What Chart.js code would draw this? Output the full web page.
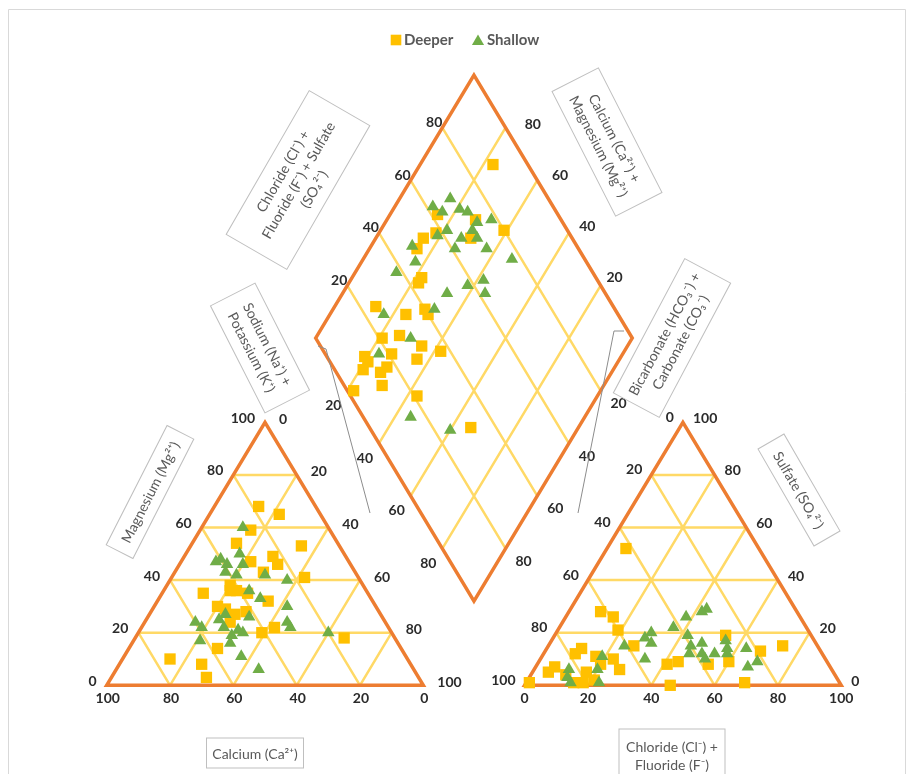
<!DOCTYPE html>
<html>
<head>
<meta charset="utf-8">
<script src="https://cdn.jsdelivr.net/npm/chart.js@4.4.1/dist/chart.umd.min.js"></script>
<style>
  html, body { margin: 0; padding: 0; background: #ffffff; }
  #wrap { width: 909px; height: 774px; position: relative; }
</style>
</head>
<body>
<div id="wrap"><canvas id="piper" width="909" height="774"></canvas></div>
<script>
// ---- Tick values -------------------------------------------------------
const edgeTicks = [0, 20, 40, 60, 80, 100];
const innerTicks = [20, 40, 60, 80];

// ---- Cation triangle: [Ca %, Mg %]  (Na+K is the remainder) -------------
const deeperCations = [
  [18,68],[13,65],[25,59],[32,54],[12,53],[23,49],[23,46],[31,47],[29,43],[17,41],
  [42,38],[41,36],[43,36],[52,35],[38,35],[33,32],[50,30],[48,29],[46,27],[42,28],
  [49,24],[41,20],[36,22],[16,18],[58,14],[75,10],[66,8],[67,3]
];
const shallowCations = [
  [27,60],[33,50],[42,47],[40,48],[39,46],[34,46],[41,43],[38,42],[29,42],[23,40],
  [37,36],[35,33],[28,30],[49,27],[52,25],[42,26],[31,24],[31,22],[60,24],[59,22],
  [52,22],[48,21],[47,20],[51,19],[62,17],[53,16],[20,20],[52,11],[49,6]
];

// ---- Anion triangle: [Cl+F %, SO4 %]  (HCO3+CO3 is the remainder) -------
const deeperAnions = [
  [6,52],[10,28],[15,26],[19,21],[27,15],[11,14],[10,12],[17,11],[23,10],[27,6],
  [41,8],[44,9],[54,19],[74,15],[68,13],[60,9],[54,8],[69,1],[46,0],[1,1],
  [5,5],[6,7],[17,5],[18,1],[21,2],[20,8],[11,4],[15,1]
];
const shallowAnions = [
  [43,29],[42,28],[38,26],[36,22],[30,20],[29,18],[32,16],[24,15],[33,10],[42,19],
  [45,15],[46,12],[48,16],[50,12],[52,10],[54,12],[55,17],[57,14],[58,12],[63,14],
  [67,7],[69,9],[11,6],[12,3],[20,6],[23,1],[19,11],[14,1]
];

// ---- Diamond: [Cl+F+SO4 %, Na+K %] ---------------------------------------
const deeperDiamond = [
  [89,23],[80,39],[53,15],[58,18],[62,15],[73,28],[68,30],[49,15],[45,22],[43,22],
  [25,13],[33,24],[40,29],[40,31],[21,21],[27,26],[32,35],[37,42],[21,27],[12,19],
  [28,36],[12,21],[9,21],[14,27],[17,28],[12,30],[2,22],[21,43],[32,66]
];
const shallowDiamond = [
  [69,16],[62,12],[64,16],[70,21],[72,24],[78,33],[73,29],[62,21],[58,19],[65,27],
  [70,29],[70,32],[61,27],[71,37],[48,13],[46,17],[77,47],[38,13],[64,42],[58,38],
  [62,45],[50,33],[43,32],[26,17],[30,30],[17,23],[15,45],[25,60]
];

// ---- Piper geometry (triangle side = 100 units) ---------------------------
const H = 50 * Math.sqrt(3);          // triangle height
const GAP = 32;                        // gap between the two triangles
const AX0 = 100 + GAP;                 // left corner of the anion triangle
const DX = 100 + GAP / 2;              // diamond centre line
const DY = (GAP / 2) * Math.sqrt(3);   // diamond bottom corner

function cationXY(ca, mg) {            // Ca at left, Na+K at right, Mg at top
  const na = 100 - ca - mg;
  return { x: na + mg / 2, y: mg * H / 100 };
}
function anionXY(cl, so4) {            // HCO3 at left, Cl at right, SO4 at top
  return { x: AX0 + cl + so4 / 2, y: so4 * H / 100 };
}
function diamondXY(s, n) {             // s = Cl+F+SO4, n = Na+K
  return { x: DX - 50 + (s + n) / 2, y: DY + H + (s - n) * H / 100 };
}

const deeperPoints = [
  ...deeperCations.map(p => cationXY(p[0], p[1])),
  ...deeperAnions.map(p => anionXY(p[0], p[1])),
  ...deeperDiamond.map(p => diamondXY(p[0], p[1]))
];
const shallowPoints = [
  ...shallowCations.map(p => cationXY(p[0], p[1])),
  ...shallowAnions.map(p => anionXY(p[0], p[1])),
  ...shallowDiamond.map(p => diamondXY(p[0], p[1]))
];

// ---- Styling ---------------------------------------------------------------
const FONT = "Lato, 'DejaVu Sans', sans-serif";
const EDGE = '#ED7D31';
const GRID = '#FFD966';
const TEXT = '#595959';
const TICK = '#2b2b2b';
const SQUARE_R = 8;
const TRI_R = 7.2;

// Axis titles drawn in framed boxes: centre (px), angle (deg), box size
const axisTitles = [
  { lines: ['Chloride (Cl\u207B) +', 'Fluoride (F\u207B) + Sulfate', '(SO\u2084\u00B2\u207B)'], cx: 298, cy: 180, rot: -60, w: 166, h: 70 },
  { lines: ['Calcium (Ca\u00B2\u207A) +', 'Magnesium (Mg\u00B2\u207A)'], cx: 607, cy: 142, rot: 63, w: 140, h: 52 },
  { lines: ['Sodium (Na\u207A) +', 'Potassium (K\u207A)'], cx: 260, cy: 348, rot: 63, w: 120, h: 50 },
  { lines: ['Bicarbonate (HCO\u2083\u207B) +', 'Carbonate (CO\u2083\u207B)'], cx: 672, cy: 338, rot: -62, w: 152, h: 52 },
  { lines: ['Magnesium (Mg\u00B2\u207A)'], cx: 150, cy: 492, rot: -63, w: 134, h: 30 },
  { lines: ['Sulfate (SO\u2084\u00B2\u207B)'], cx: 799, cy: 490, rot: 60, w: 112, h: 30 },
  { lines: ['Calcium (Ca\u00B2\u207A)'], cx: 255, cy: 753, rot: 0, w: 97, h: 30 },
  { lines: ['Chloride (Cl\u207B) +', 'Fluoride (F\u207B)'], cx: 672, cy: 755, rot: 0, w: 106, h: 52 }
];

// Leader lines from the side titles to the diamond
const leaders = [
  [[318, 346], [326, 349], [370, 513]],
  [[624, 331], [614, 331], [578, 513]]
];

// Tick label sets: anchor point on an edge + pixel offset (constant or per value)
const tickSets = [
  { values: edgeTicks, at: v => cationXY(100 - v, v), dx: -10, dy: -4, align: 'right' },      // Mg
  { values: edgeTicks, at: v => cationXY(0, 100 - v), dx: 14, dy: -3, align: 'left' },        // Na+K
  { values: edgeTicks, at: v => cationXY(v, 0), dx: 1, dy: 13, align: 'center' },             // Ca
  { values: edgeTicks, at: v => anionXY(0, 100 - v), dx: -9, dy: -5, align: 'right' },        // HCO3
  { values: edgeTicks, at: v => anionXY(100 - v, v), dx: 10, dy: -4, align: 'left' },         // SO4
  { values: edgeTicks, at: v => anionXY(v, 0), dx: 0, dy: 13, align: 'center' },              // Cl+F
  { values: innerTicks, at: v => diamondXY(v, 0), dx: 0, dy: -5, align: 'right' },            // Cl+F+SO4
  { values: innerTicks, at: v => diamondXY(100, 100 - v),                                     // Ca+Mg
    dx: v => 14 + (v - 20) * 0.22, dy: v => -8.5 + (v - 20) * 0.09, align: 'center' },
  { values: innerTicks, at: v => diamondXY(0, v), dx: -14, dy: 15, align: 'center' },         // Na+K
  { values: innerTicks, at: v => diamondXY(100 - v, 100), dx: 18, dy: 13, align: 'center' }   // HCO3
];

// ---- Plugin drawing the Piper frame, grid, labels and legend ---------------
const piperFrame = {
  id: 'piperFrame',
  beforeDatasetsDraw(chart) {
    const { ctx, scales: { x, y } } = chart;
    const P = p => [x.getPixelForValue(p.x), y.getPixelForValue(p.y)];
    const seg = (a, b) => { const A = P(a), B = P(b); ctx.moveTo(A[0], A[1]); ctx.lineTo(B[0], B[1]); };

    ctx.save();
    // outer chart frame
    ctx.strokeStyle = '#d9d9d9';
    ctx.lineWidth = 1;
    ctx.beginPath();
    ctx.moveTo(8.5, 790); ctx.lineTo(8.5, 9.5); ctx.lineTo(905.5, 9.5); ctx.lineTo(905.5, 790);
    ctx.stroke();

    // grid lines
    ctx.strokeStyle = GRID;
    ctx.lineWidth = 2.5;
    ctx.beginPath();
    innerTicks.forEach(k => {
      seg(cationXY(100 - k, k), cationXY(0, k));       // Mg = k
      seg(cationXY(k, 0), cationXY(k, 100 - k));       // Ca = k
      seg(cationXY(100 - k, 0), cationXY(0, 100 - k)); // Na+K = k
      seg(anionXY(0, k), anionXY(100 - k, k));         // SO4 = k
      seg(anionXY(k, 0), anionXY(k, 100 - k));         // Cl = k
      seg(anionXY(100 - k, 0), anionXY(0, 100 - k));   // HCO3 = k
      seg(diamondXY(k, 0), diamondXY(k, 100));         // Cl+F+SO4 = k
      seg(diamondXY(0, k), diamondXY(100, k));         // Na+K = k
    });
    ctx.stroke();

    // outlines
    ctx.strokeStyle = EDGE;
    ctx.lineWidth = 3.5;
    ctx.lineJoin = 'miter';
    const poly = pts => {
      ctx.beginPath();
      pts.forEach((p, i) => { const q = P(p); i ? ctx.lineTo(q[0], q[1]) : ctx.moveTo(q[0], q[1]); });
      ctx.closePath();
      ctx.stroke();
    };
    poly([cationXY(100, 0), cationXY(0, 0), cationXY(0, 100)]);
    poly([anionXY(0, 0), anionXY(100, 0), anionXY(0, 100)]);
    poly([diamondXY(0, 0), diamondXY(100, 0), diamondXY(100, 100), diamondXY(0, 100)]);
    ctx.restore();
  },
  afterDatasetsDraw(chart) {
    const { ctx, scales: { x, y } } = chart;
    const off = (o, v) => (typeof o === 'function' ? o(v) : o);
    ctx.save();

    // tick labels
    ctx.fillStyle = TICK;
    ctx.font = 'bold 14px ' + FONT;
    ctx.textBaseline = 'middle';
    tickSets.forEach(set => {
      ctx.textAlign = set.align;
      set.values.forEach(v => {
        const p = set.at(v);
        ctx.fillText(String(v), x.getPixelForValue(p.x) + off(set.dx, v), y.getPixelForValue(p.y) + off(set.dy, v));
      });
    });

    // leader lines
    ctx.strokeStyle = '#8c8c8c';
    ctx.lineWidth = 1;
    leaders.forEach(line => {
      ctx.beginPath();
      line.forEach((p, i) => i ? ctx.lineTo(p[0], p[1]) : ctx.moveTo(p[0], p[1]));
      ctx.stroke();
    });

    // boxed axis titles
    ctx.font = '14px ' + FONT;
    ctx.textAlign = 'center';
    axisTitles.forEach(t => {
      ctx.save();
      ctx.translate(t.cx, t.cy);
      ctx.rotate(t.rot * Math.PI / 180);
      ctx.fillStyle = '#ffffff';
      ctx.fillRect(-t.w / 2, -t.h / 2, t.w, t.h);
      ctx.strokeStyle = '#bfbfbf';
      ctx.lineWidth = 1;
      ctx.strokeRect(-t.w / 2, -t.h / 2, t.w, t.h);
      ctx.fillStyle = TEXT;
      const lh = 18;
      const y0 = -((t.lines.length - 1) * lh) / 2;
      t.lines.forEach((s, i) => ctx.fillText(s, 0, y0 + i * lh + 1));
      ctx.restore();
    });

    // legend
    const legendPos = [{ mx: 396, tx: 404 }, { mx: 478, tx: 487 }];
    ctx.font = 'bold 15px ' + FONT;
    ctx.textAlign = 'left';
    chart.data.datasets.forEach((ds, i) => {
      ctx.fillStyle = ds.backgroundColor;
      ctx.strokeStyle = ds.backgroundColor;
      const isRect = ds.pointStyle === 'rect';
      Chart.helpers.drawPoint(ctx, { pointStyle: ds.pointStyle, radius: isRect ? 7.5 : 7, rotation: 0, borderWidth: 0 },
        legendPos[i].mx, 40 + (isRect ? 0 : 1.5));
      ctx.fillStyle = TEXT;
      ctx.fillText(ds.label, legendPos[i].tx, 40);
    });
    ctx.restore();
  }
};

// ---- Chart -----------------------------------------------------------------
// Pixel scale: 3.166 px per unit across, 3.037 px per unit up; base line at y = 685.3.
// The chart area is inset by the largest point radius on every side.
const INSET = Math.max(SQUARE_R, TRI_R);
const X_MIN = (INSET - 106.7) / 3.166, X_MAX = (909 - INSET - 106.7) / 3.166;
const Y_MAX = (685.3 - INSET) / 3.037, Y_MIN = -(774 - INSET - 685.3) / 3.037;

new Chart(document.getElementById('piper'), {
  type: 'scatter',
  data: {
    datasets: [
      { label: 'Deeper', data: deeperPoints, pointStyle: 'rect', pointRadius: SQUARE_R, pointHoverRadius: SQUARE_R,
        backgroundColor: '#FFC000', borderColor: '#FFC000', borderWidth: 0, order: 1 },
      { label: 'Shallow', data: shallowPoints, pointStyle: 'triangle', pointRadius: TRI_R, pointHoverRadius: TRI_R,
        backgroundColor: '#70AD47', borderColor: '#70AD47', borderWidth: 0, order: 0 }
    ]
  },
  options: {
    responsive: false,
    animation: false,
    layout: { padding: 0 },
    scales: {
      x: { type: 'linear', min: X_MIN, max: X_MAX, display: false },
      y: { type: 'linear', min: Y_MIN, max: Y_MAX, display: false }
    },
    plugins: { legend: { display: false }, tooltip: { enabled: false } }
  },
  plugins: [piperFrame]
});
</script>
</body>
</html>
